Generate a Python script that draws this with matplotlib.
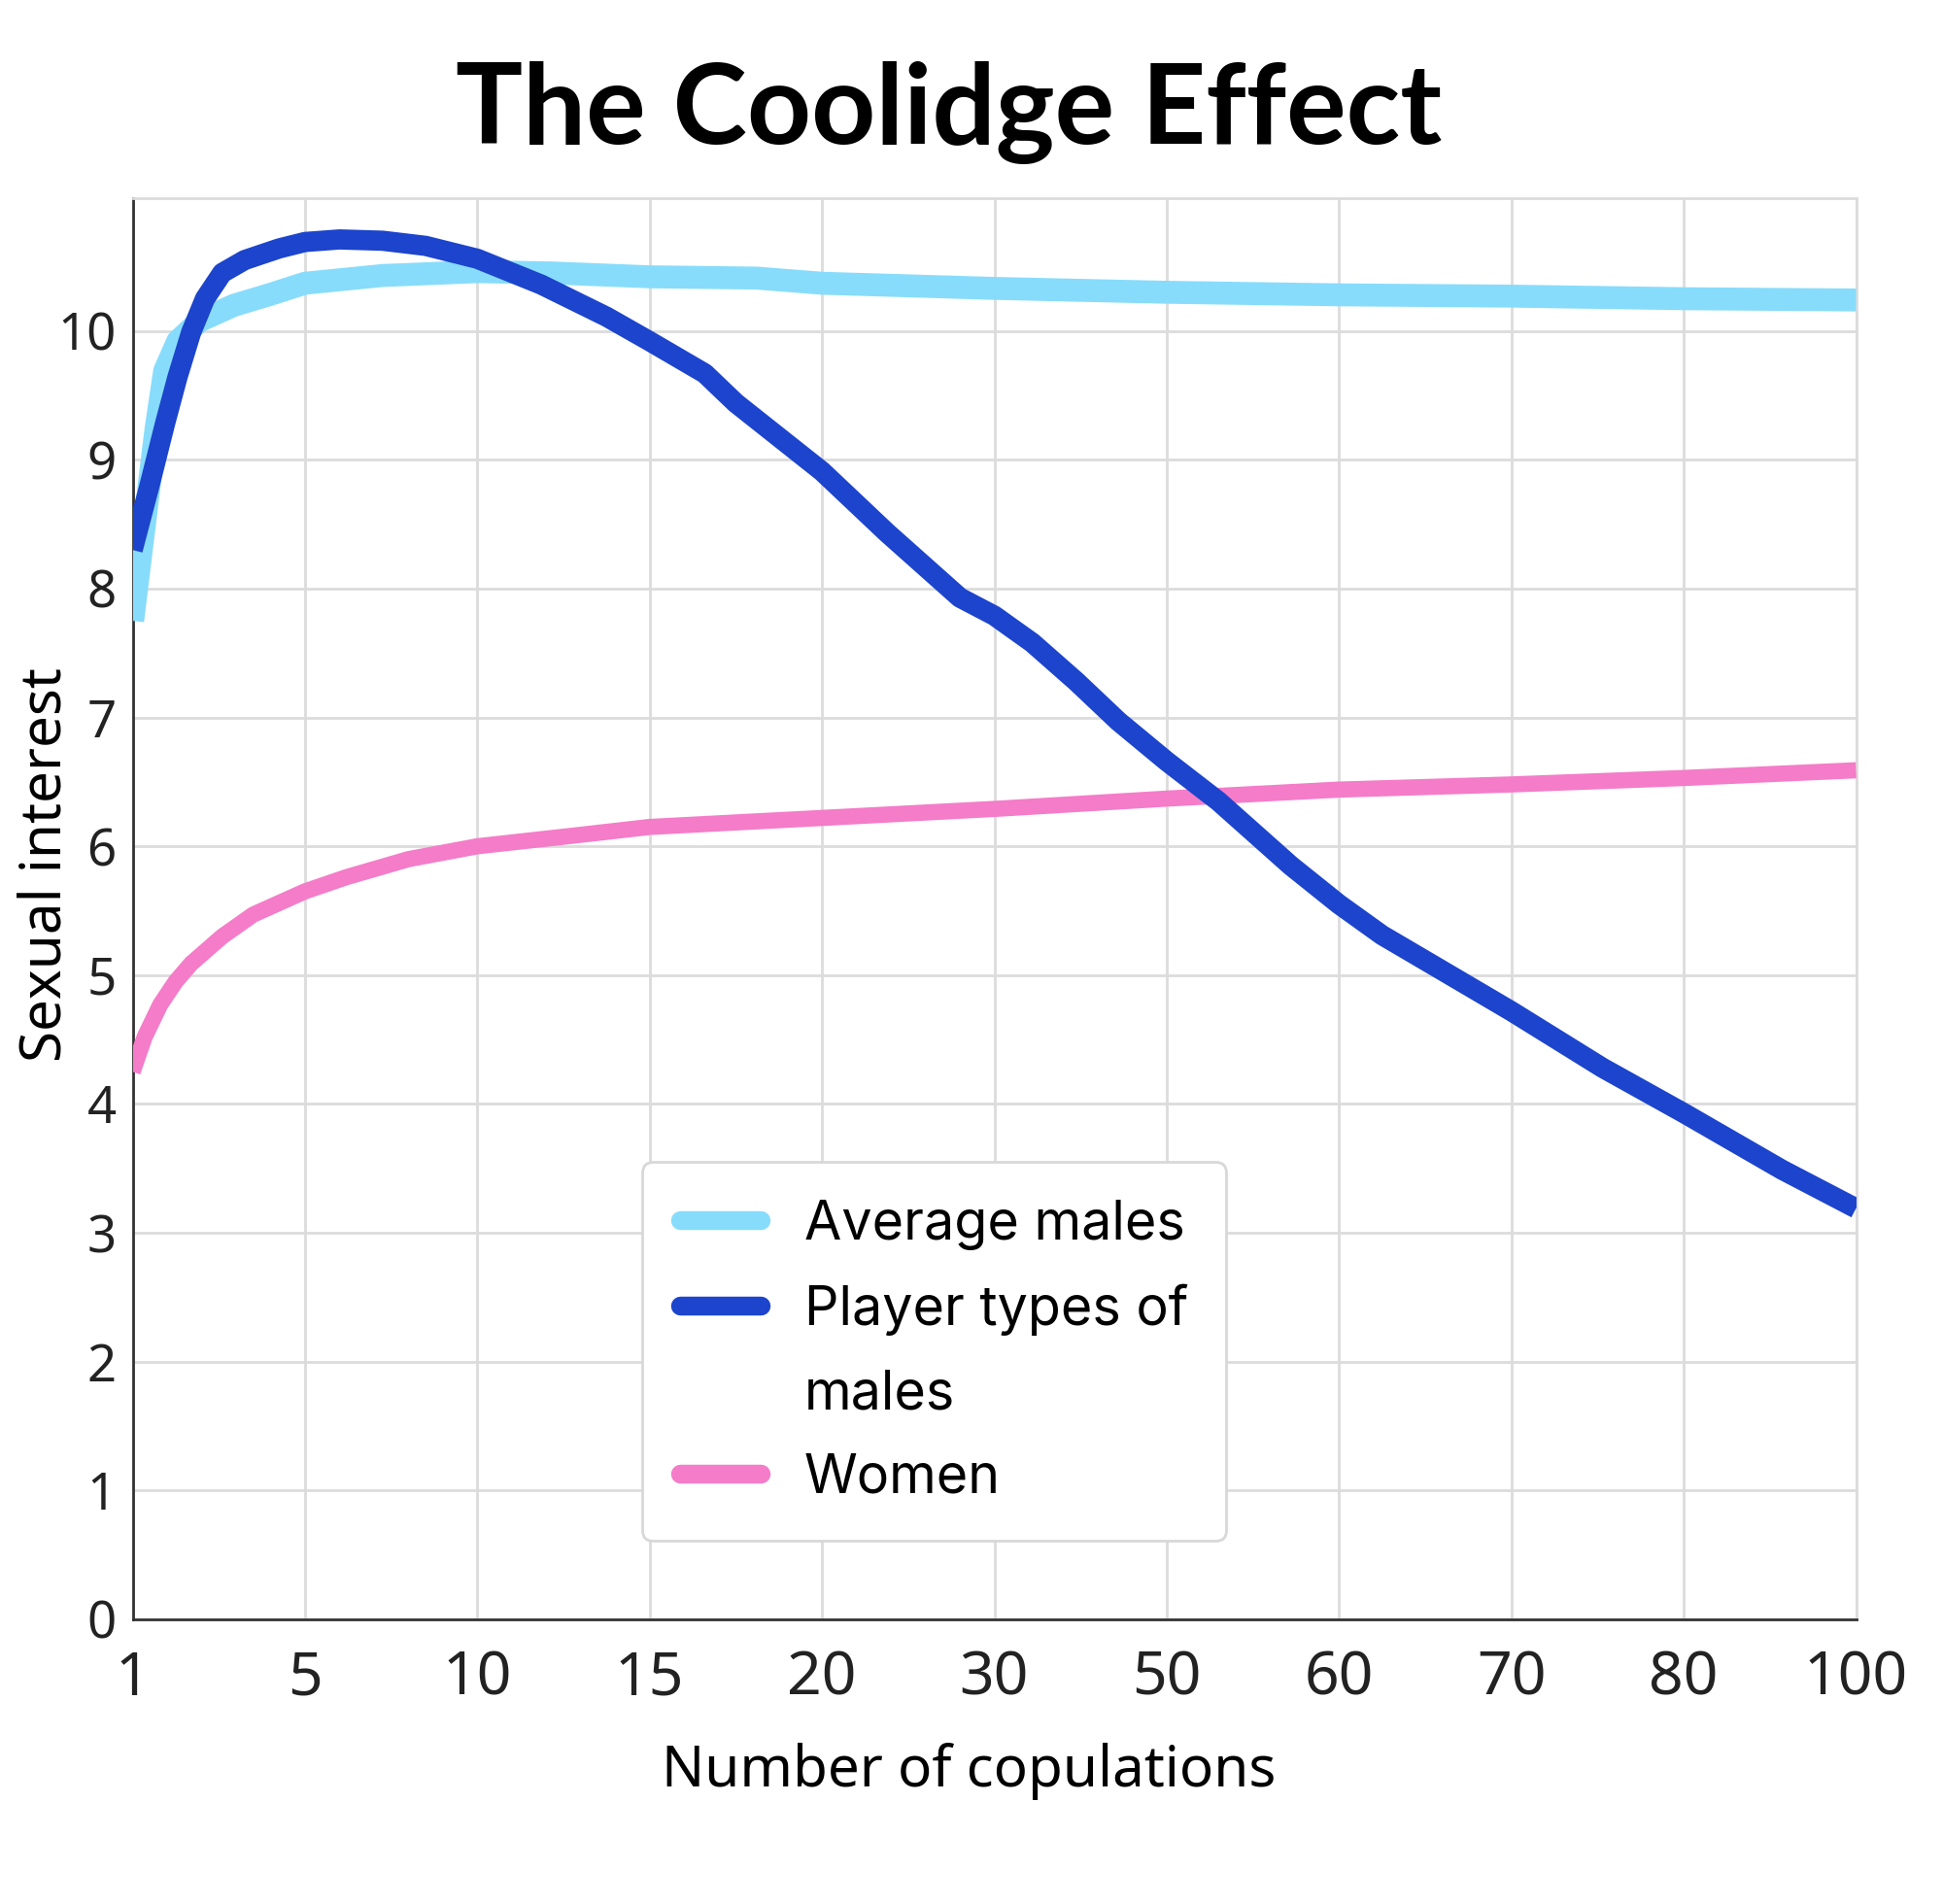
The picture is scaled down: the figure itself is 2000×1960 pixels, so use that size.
import matplotlib
matplotlib.use('Agg')
import matplotlib.pyplot as plt
from matplotlib.lines import Line2D

# categories on the x axis (evenly spaced, not to scale)
x_labels = ['1', '5', '10', '15', '20', '30', '50', '60', '70', '80', '100']
y_ticks = [0, 1, 2, 3, 4, 5, 6, 7, 8, 9, 10]

# positions are fractional category indices
avg_x = [0, 0.086, 0.136, 0.186, 0.262, 0.39, 0.59, 0.79, 1.0, 1.45, 2.0, 2.43,
         3.0, 3.62, 4.0, 5.0, 6.0, 7.0, 8.0, 9.0, 10.0]
avg_y = [7.75, 8.69, 9.24, 9.69, 9.92, 10.08, 10.2, 10.28, 10.37, 10.43, 10.46, 10.45,
         10.42, 10.41, 10.37, 10.33, 10.30, 10.28, 10.27, 10.25, 10.24]

player_x = [0, 0.1, 0.19, 0.26, 0.34, 0.42, 0.52, 0.65, 0.85, 1.0, 1.2, 1.45, 1.7, 2.0,
            2.37, 2.75, 3.0, 3.32, 3.5, 4.0, 4.38, 4.8, 5.0, 5.22, 5.475, 5.72, 6.0,
            6.3, 6.72, 7.0, 7.25, 7.53, 8.0, 8.53, 9.0, 9.57, 10.0]
player_y = [8.3, 8.81, 9.29, 9.64, 9.99, 10.25, 10.45, 10.55, 10.64, 10.69, 10.71, 10.70, 10.66, 10.56,
            10.36, 10.11, 9.92, 9.67, 9.44, 8.91, 8.43, 7.93, 7.79, 7.58, 7.28, 6.97, 6.66,
            6.35, 5.85, 5.55, 5.31, 5.09, 4.72, 4.28, 3.93, 3.49, 3.19]

women_x = [0, 0.07, 0.16, 0.25, 0.34, 0.52, 0.70, 1.0, 1.24, 1.6, 2.0, 2.54, 3.0,
           4.0, 5.0, 6.0, 7.0, 8.0, 9.0, 10.0]
women_y = [4.25, 4.52, 4.77, 4.95, 5.09, 5.30, 5.47, 5.65, 5.76, 5.90, 6.0, 6.08, 6.15,
           6.22, 6.29, 6.37, 6.44, 6.48, 6.53, 6.59]

light_blue = '#87DCFB'
dark_blue = '#1C44CC'
pink = '#F47CC8'
grid_col = '#DCDCDC'

fig = plt.figure(figsize=(20, 19.6), dpi=100)
ax = fig.add_axes([0.06825, 0.1495, 0.887, 0.7464])

ax.plot(avg_x, avg_y, color=light_blue, lw=17, solid_capstyle='butt', solid_joinstyle='round', zorder=3)
ax.plot(women_x, women_y, color=pink, lw=12, solid_capstyle='butt', solid_joinstyle='round', zorder=3)
ax.plot(player_x, player_y, color=dark_blue, lw=15, solid_capstyle='butt', solid_joinstyle='round', zorder=4)

ax.set_xlim(0, 10)
ax.set_ylim(0, 11.03)
ax.set_xticks(range(len(x_labels)))
ax.set_xticklabels(x_labels, fontsize=45, family='Noto Sans', color='#222222')
ax.set_yticks(y_ticks)
ax.set_yticklabels([str(v) for v in y_ticks], fontsize=38, family='Noto Sans', color='#222222')
ax.tick_params(axis='both', length=0)
ax.tick_params(axis='x', pad=22)
ax.tick_params(axis='y', pad=12)

ax.grid(True, color=grid_col, lw=2, zorder=0)
ax.set_axisbelow(True)
for s in ['top', 'right']:
    ax.spines[s].set_color(grid_col)
    ax.spines[s].set_linewidth(2)
for s in ['left', 'bottom']:
    ax.spines[s].set_color('#333333')
    ax.spines[s].set_linewidth(2)

ax.set_xlabel('Number of copulations', fontsize=42, family='Noto Sans', va='center')
ax.xaxis.set_label_coords(0.485, -0.107)
ax.set_ylabel('Sexual interest', fontsize=42, family='Noto Sans', va='center')
ax.yaxis.set_label_coords(-0.0504, 0.531)
fig.text(0.4885, 0.941, 'The Coolidge Effect', fontsize=83, family='Lato',
         weight='bold', ha='center', va='center')

# legend, with the wrapped label split into its own row
handles = [Line2D([], [], color=light_blue, lw=14, solid_capstyle='round'),
           Line2D([], [], color=dark_blue, lw=14, solid_capstyle='round'),
           Line2D([], [], color='none', lw=0),
           Line2D([], [], color=pink, lw=14, solid_capstyle='round')]
labels = ['Average males', 'Player types of', 'males', 'Women']
leg = ax.legend(handles, labels, loc='upper left', bbox_to_anchor=(0.2956, 0.322),
                prop={'family': 'Inter', 'size': 40}, frameon=True, fancybox=True,
                edgecolor='#D8D8D8', framealpha=1, handlelength=1.5, handletextpad=0.8,
                labelspacing=0.62, borderpad=0.7, borderaxespad=0)
leg.get_frame().set_linewidth(2)
leg.set_zorder(5)

plt.savefig('out.png', dpi=100)
